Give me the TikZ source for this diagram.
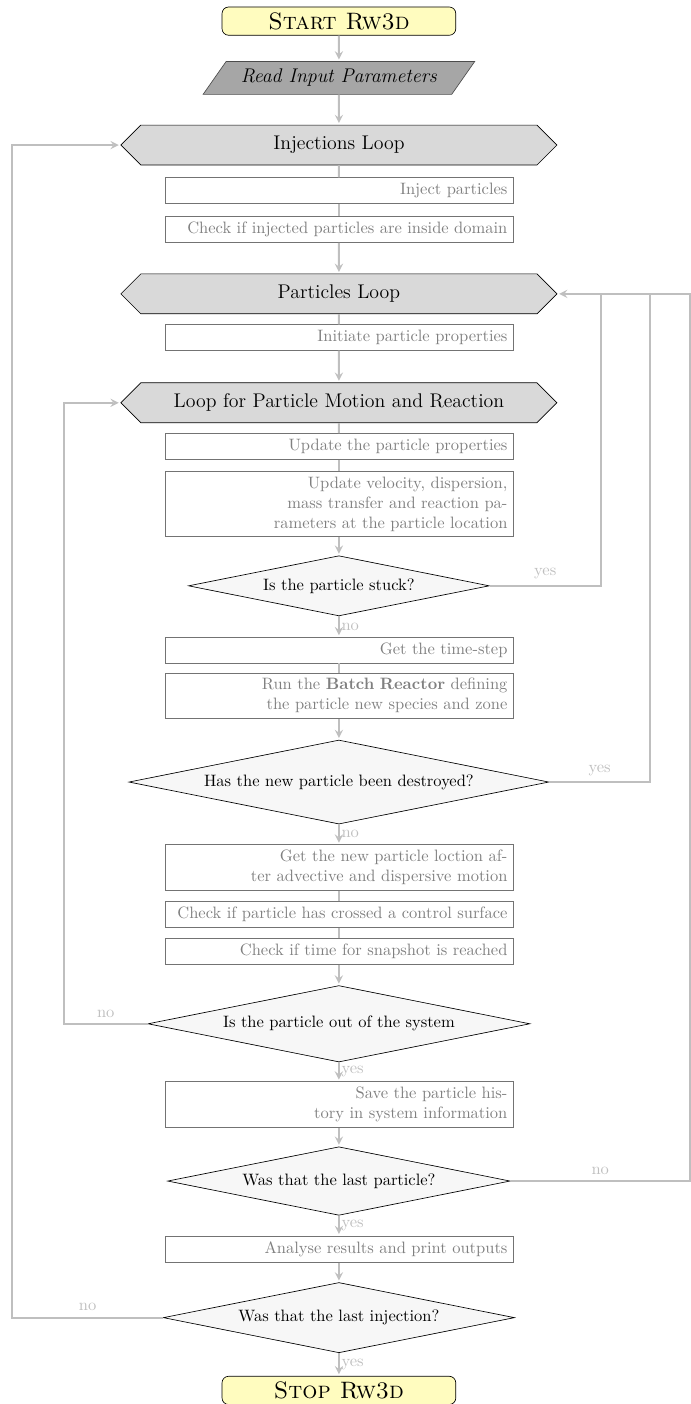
\documentclass[tikz,border=0pt]{standalone}
\usepackage {tikz}
\usetikzlibrary {positioning}
\usetikzlibrary{shapes.geometric,shapes.symbols}
\usepackage{xcolor}

\begin{document}
\begin{tikzpicture}[loop node/.style={shape=signal,signal to=west and east,draw=black,fill=black!15,minimum width=9.29cm,minimum height=0.85cm,font=\large},task node/.style={shape=rectangle,draw=black!55,text=black!50,text width=7.18cm,align=right,minimum height=0.55cm},test node/.style={shape=diamond,aspect=5,inner sep=3.8pt,draw=black,fill=black!3},term node/.style={shape=rectangle,rounded corners=4pt,draw=black,fill=yellow!25,minimum width=4.98cm,minimum height=0.58cm,font=\Large},io node/.style={shape=trapezium,trapezium left angle=55,trapezium right angle=125,inner xsep=0pt,draw=black!70,fill=black!35,minimum width=5.75cm,minimum height=0.7cm,font=\large},flow/.style={draw=black!25,very thick},arrow/.style={flow,-stealth,shorten >=1pt},ans/.style={text=black!25}, ]
		\useasboundingbox (0,0) rectangle (14.72,-29.91);
		%main column
		\node[term node] (start) at (7.22,-0.45){\textsc{Start Rw3d}};
		\node[io node] (read) at (7.22,-1.66){\textit{Read Input Parameters}};
		\node[loop node] (injloop) at (7.22,-3.09){Injections Loop};
		\node[task node] (inject) at (7.22,-4.06){Inject particles};
		\node[task node] (inside) at (7.22,-4.89){Check if injected particles are inside domain};
		\node[loop node] (partloop) at (7.22,-6.26){Particles Loop};
		\node[task node] (init) at (7.22,-7.19){Initiate particle properties};
		\node[loop node] (motloop) at (7.22,-8.58){Loop for Particle Motion and Reaction};
		\node[task node] (update) at (7.22,-9.51){Update the particle properties};
		\node[task node] (params) at (7.22,-10.74){Update velocity, dispersion,\\mass transfer and reaction pa-\\rameters at the particle location};
		\node[test node] (stuck) at (7.22,-12.48){Is the particle stuck?};
		\node[task node] (tstep) at (7.22,-13.85){Get the time-step};
		\node[task node] (batch) at (7.22,-14.82){Run the \textbf{Batch Reactor} defining\\the particle new species and zone};
		\node[test node] (destroyed) at (7.22,-16.66){Has the new particle been destroyed?};
		\node[task node] (move) at (7.22,-18.48){Get the new particle loction af-\\ter advective and dispersive motion};
		\node[task node] (surface) at (7.22,-19.48){Check if particle has crossed a control surface};
		\node[task node] (snap) at (7.22,-20.27){Check if time for snapshot is reached};
		\node[test node] (out) at (7.22,-21.81){Is the particle out of the system};
		\node[task node] (save) at (7.22,-23.53){Save the particle his-\\tory in system information};
		\node[test node] (lastpart) at (7.22,-25.16){Was that the last particle?};
		\node[task node] (results) at (7.22,-26.61){Analyse results and print outputs};
		\node[test node] (lastinj) at (7.22,-28.07){Was that the last injection?};
		\node[term node] (stop) at (7.22,-29.62){\textsc{Stop Rw3d}};
		
		%corners of the loop-back lines
		\coordinate (r1) at (12.80,-6.26);
		\coordinate (r2) at (13.85,-6.26);
		\coordinate (r3) at (14.70,-6.26);
		\coordinate (l1) at (1.36,-8.58);
		\coordinate (l2) at (0.26,-3.09);
		
		\path (start) edge[arrow] (read);
		\path (read) edge[arrow] (injloop);
		\path (injloop) edge[flow] (inject);
		\path (inject) edge[flow] (inside);
		\path (inside) edge[arrow] (partloop);
		\path (partloop) edge[flow] (init);
		\path (init) edge[arrow] (motloop);
		\path (motloop) edge[flow] (update);
		\path (update) edge[flow] (params);
		\path (params) edge[arrow] (stuck);
		\path (stuck) edge[arrow] node[ans,right,inner sep=1pt]{no} (tstep);
		\path (tstep) edge[flow] (batch);
		\path (batch) edge[arrow] (destroyed);
		\path (destroyed) edge[arrow] node[ans,right,inner sep=1pt]{no} (move);
		\path (move) edge[flow] (surface);
		\path (surface) edge[flow] (snap);
		\path (snap) edge[arrow] (out);
		\path (out) edge[arrow] node[ans,right,inner sep=1pt]{yes} (save);
		\path (save) edge[arrow] (lastpart);
		\path (lastpart) edge[arrow] node[ans,right,inner sep=1pt]{yes} (results);
		\path (results) edge[arrow] (lastinj);
		\path (lastinj) edge[arrow] node[ans,right,inner sep=1pt]{yes} (stop);
		
		%loop-back paths
		\draw[flow] (stuck.east) -| node[ans,pos=0.25,above]{yes} (r1);
		\draw[flow] (destroyed.east) -| node[ans,pos=0.25,above]{yes} (r2);
		\draw[arrow] (lastpart.east) -| node[ans,pos=0.25,above]{no} (r3) -- (partloop.east);
		\draw[arrow] (out.west) -| node[ans,pos=0.25,above]{no} (l1) -- (motloop.west);
		\draw[arrow] (lastinj.west) -| node[ans,pos=0.25,above]{no} (l2) -- (injloop.west);
		
\end{tikzpicture}
\end{document}
